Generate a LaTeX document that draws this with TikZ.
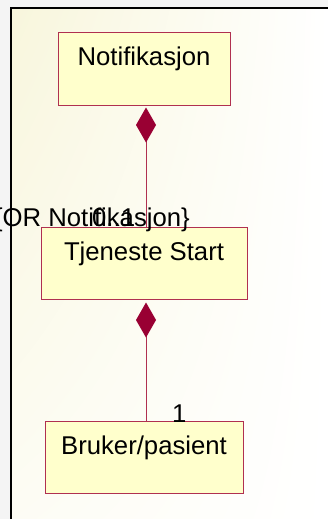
\documentclass[tikz,border=0pt]{standalone}
\usepackage{fontspec}
\setmainfont{Liberation Sans}
\usetikzlibrary{arrows.meta, positioning, calc, shadings}
\definecolor{umlfill}{RGB}{255, 255, 204}
\definecolor{umlline}{RGB}{176, 48, 80}
\definecolor{umldiamond}{RGB}{153, 0, 51}
\definecolor{bgcream}{RGB}{248, 246, 220}
\definecolor{bggray}{RGB}{244, 244, 244}

\begin{document}
\begin{tikzpicture}[x=1pt, y=-1pt,
  umlclass/.style={draw=umlline, fill=umlfill, line width=1pt, inner sep=0pt, minimum height=72pt, text height=33pt, text depth=39pt, font=\fontsize{25.7}{30}\selectfont},
  composition/.style={draw=umlline, line width=1pt, -{Diamond[length=35pt, width=20pt, fill=umldiamond, color=umldiamond]}, shorten >=2pt},
  mult/.style={inner sep=0pt, font=\fontsize{25.7}{30}\selectfont}]
  \useasboundingbox (0,0) rectangle (328,519);
  % background of the diagram pane
  \fill[bggray] (0,0) rectangle (328,519);
  \shade[upper left=bgcream, upper right=white, lower left=bgcream!30, lower right=white] (11,8) rectangle (328,519);
  \draw[line width=1.5pt] (11,519) -- (11,8) -- (328,8);

  \node[umlclass, minimum width=172pt] (notif) at (144,69) {Notifikasjon};
  \node[umlclass, minimum width=206pt] (tjen) at (144,263) {Tjeneste Start};
  \node[umlclass, minimum width=198pt] (bruk) at (144,457) {Bruker/pasient};

  \draw[composition] ([xshift=2pt]tjen.north) -- ([xshift=2pt]notif.south);
  \draw[composition, shorten >=3pt] ([xshift=2pt]bruk.north) -- ([xshift=2pt]tjen.south);

  % role names and multiplicities
  \node[mult, anchor=base east] (role) at (190,226) {\{OR Notifikasjon\}};
  \node[mult, anchor=base west] (mtjen) at (92,226) {0..1};
  \node[mult, anchor=base west] (mbruk) at (172,422) {1};
\end{tikzpicture}
\end{document}
